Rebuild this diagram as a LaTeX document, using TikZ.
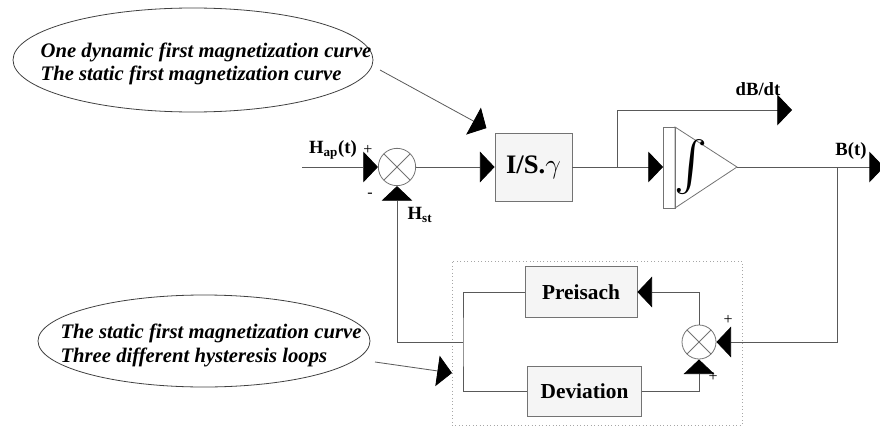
\documentclass[tikz,border=0pt]{standalone}
\usepackage{graphicx}
\usepackage{fontspec}
\setmainfont{Liberation Serif}
\usetikzlibrary{arrows.meta,shapes.geometric,positioning}

\tikzset{every picture/.style={line width=0.75pt}}
\tikzset{
  wire/.style={draw=black!65, line width=0.6pt},
  flow/.style={wire, -{Triangle[length=11pt,width=23pt,color=black,fill=black]}},
  blockbox/.style={draw=black!55, fill=black!4, line width=0.6pt, inner sep=0pt, font=\bfseries\fontsize{16}{18}\selectfont},
  summer/.style={circle, draw=black!55, line width=0.6pt, minimum size=28pt, inner sep=0pt,
    path picture={\draw[black!55] (path picture bounding box.south west) -- (path picture bounding box.north east)
      (path picture bounding box.north west) -- (path picture bounding box.south east);}},
  note/.style={ellipse, draw=black!75, line width=0.6pt, inner sep=0pt},
  notetext/.style={align=left, inner sep=0pt, font=\bfseries\itshape\fontsize{15.5}{17}\selectfont},
  sig/.style={inner sep=0pt, font=\bfseries\fontsize{14}{16}\selectfont},
  sign/.style={inner sep=0pt, font=\fontsize{12}{12}\selectfont}
}

\begin{document}
\begin{tikzpicture}[x=0.75pt,y=0.75pt,yscale=-1,xscale=1]
\useasboundingbox (0,0) rectangle (880,428);

% notes
\node [note, minimum width=270pt, minimum height=78pt] (dynnote) at (193,60) {};
\node [notetext] (dyntext) at (206,64) {One dynamic first magnetization curve\\The static first magnetization curve};
\node [note, minimum width=249pt, minimum height=69pt] (statnote) at (204,341) {};
\node [notetext, font=\bfseries\itshape\fontsize{15.5}{18}\selectfont] (stattext) at (211,345) {The static first magnetization curve\\Three different hysteresis loops};

% main chain
\coordinate (hin) at (302,167);
\node [summer] (sumin) at (397,167) {};
\node [blockbox, minimum width=57.75pt, minimum height=51pt, font=\bfseries\fontsize{20}{22}\selectfont] (gainbox) at (533.5,167) {I/S.$\gamma$};
\coordinate (branch) at (617,167);
\coordinate (dbdt) at (792,110);
\coordinate (integin) at (663,167);
\coordinate (integout) at (737,167);
\coordinate (tap) at (837,167);
\coordinate (bout) at (884,167);

% integrator
\draw [draw=black!55, line width=0.6pt] (663,127) rectangle (675,208);
\draw [draw=black!55, line width=0.6pt] (675,127) -- (integout) -- (675,208) -- cycle;
\node [inner sep=0pt] (intsign) at (691,167) {\resizebox{!}{30pt}{$\int$}};

% hysteresis model
\node [draw=black!35, dotted, line width=0.6pt, minimum width=217.5pt, minimum height=123pt, inner sep=0pt] (frame) at (597,343) {};
\node [blockbox, minimum width=84pt, minimum height=38pt] (preisach) at (581,292) {Preisach};
\node [blockbox, minimum width=85pt, minimum height=37.5pt] (deviation) at (584.5,391) {Deviation};
\node [summer, minimum size=25.5pt] (sumfb) at (699,342) {};
\coordinate (split) at (463,342);
\coordinate (modelin) at (452,373);
\coordinate (dynfrom) at (380,70);
\coordinate (statfrom) at (375,362);

% connectors
\draw [flow] (hin) -- (sumin.west);
\draw [flow] (sumin.east) -- (gainbox.west);
\draw [flow] (gainbox.east) -- (integin);
\draw [flow] (branch) |- (dbdt);
\draw [flow] (integout) -- (bout);
\draw [flow] (tap) |- (sumfb.east);
\draw [flow] (sumfb.north) |- (preisach.east);
\draw [flow] (deviation.east) -| (sumfb.south);
\draw [wire] (preisach.west) -| (split) |- (deviation.west);
\draw [flow] (split) -| (sumin.south);
\draw [flow, shorten >=7pt] (dynfrom) -- (gainbox.north west);
\draw [flow] (statfrom) -- (modelin);

% labels
\node [sig] (haplabel) at (333,150) {H\textsubscript{ap}(t)};
\node [sign] (hapsign) at (368,150) {+};
\node [sign] (hstsign) at (370,195) {-};
\node [sig] (hstlabel) at (420,215) {H\textsubscript{st}};
\node [sig] (dbdtlabel) at (758,89) {dB/dt};
\node [sig] (blabel) at (851,151) {B(t)};
\node [sign] (devsign) at (713,377) {+};
\node [sign] (bsign) at (728,320) {+};

\end{tikzpicture}
\end{document}
